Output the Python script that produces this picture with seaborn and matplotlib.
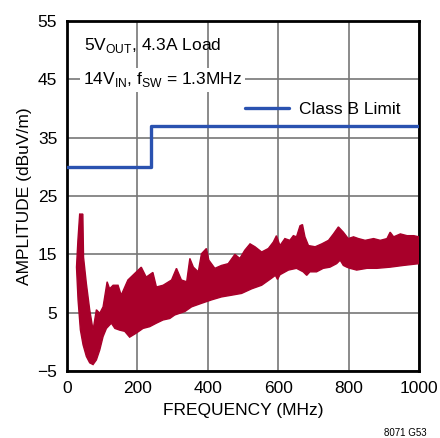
import numpy as np
import pandas as pd
import matplotlib
matplotlib.use('Agg')
import matplotlib.pyplot as plt
import seaborn as sns

# Dados
limit_freq = [0, 240, 1000]
limit_amp = [30, 37, 37]

upper_freq = [27, 31, 36, 45, 47, 55, 64.5, 74, 83.5, 93, 102.5, 114, 121, 131, 145, 154,
              173, 192, 211, 225, 244, 254, 273, 297, 311, 325, 340, 349, 359, 373, 382,
              396, 403, 420, 439, 458, 477, 491, 505, 520, 534, 553, 572, 586, 595, 605,
              619, 633, 643, 652, 662, 669, 676, 686, 705, 724, 743, 757, 771, 785, 799,
              814, 828, 847, 871, 890, 909, 918, 928, 947, 966, 985, 1000]
upper_amp = [12.8, 17.4, 21.9, 21.9, 14.5, 10, 5.5, 2, 5.5, 4.9, 6, 10.3, 9.1, 9.7, 9.7, 8,
             10.6, 11.7, 12.8, 11.1, 11.9, 9.4, 9.7, 10.6, 12.6, 10.6, 10.3, 14.3, 12.8, 12,
             15.1, 16, 14, 12.6, 13.1, 13.4, 15, 14.3, 15.7, 16.8, 16.3, 15.4, 16, 17.1,
             18.2, 16.5, 17.7, 17.4, 18.2, 18, 19.9, 20.1, 18, 16.5, 16.3, 16.8, 17.4, 18.5,
             19.7, 18.8, 17.7, 18, 17.7, 17.4, 17.7, 17.4, 17.7, 18.8, 18, 18.5, 18.2, 18.2, 18]

lower_freq = [27, 31.4, 38, 45.6, 55, 64.5, 74, 83.5, 93, 102.5, 112, 126, 136, 150, 164,
              178, 197, 216, 235, 254, 273, 292, 306, 335, 354, 382, 411, 439, 468, 496,
              525, 553, 581, 592, 598, 605, 629, 652, 671, 681, 690, 709, 728, 747, 766,
              776, 785, 795, 804, 823, 852, 880, 918, 956, 1000]
lower_amp = [12.8, 7.2, 2.05, -0.5, -2.5, -3.6, -3.9, -3.1, -1.4, 0.9, 2.3, 3.2, 2.3, 2, 1.8,
             0.8, 1.5, 2.3, 2.6, 3.2, 3.75, 4, 4.6, 5.2, 6, 6.6, 7.2, 7.7, 8, 8.3,
             9.1, 9.7, 10.9, 11.4, 10.7, 11.5, 12.3, 12.6, 12, 11.4, 12, 12, 12.6, 12.8, 13.4,
             14, 13.1, 12.8, 12.6, 12.3, 12.6, 12.6, 12.8, 13.1, 13.4]

y_ticks = [-5, 5, 15, 25, 35, 45, 55]
x_ticks = [0, 200, 400, 600, 800, 1000]

sns.set_style("white")
plt.rcParams['font.family'] = ['Liberation Sans', 'DejaVu Sans']
plt.rcParams['mathtext.fontset'] = 'custom'
plt.rcParams['mathtext.rm'] = 'Liberation Sans'
plt.rcParams['text.color'] = 'black'
plt.rcParams['axes.labelcolor'] = 'black'
plt.rcParams['xtick.color'] = 'black'
plt.rcParams['ytick.color'] = 'black'

fig = plt.figure(figsize=(4.4, 4.38), dpi=100)
ax = fig.add_axes([67 / 440, 1 - 371 / 438, 352 / 440, 350 / 438])

# Envelope do ruído (vermelho)
poly_x = np.concatenate([upper_freq, lower_freq[::-1]])
poly_y = np.concatenate([upper_amp, lower_amp[::-1]])
ax.fill(poly_x, poly_y, color='#A8002A', lw=1.0, ec='#A8002A', zorder=3)

# Limite Classe B
df_lim = pd.DataFrame({'freq': limit_freq, 'amp': limit_amp})
sns.lineplot(data=df_lim, x='freq', y='amp', drawstyle='steps-post', color='#2A52B0',
             lw=2.4, ax=ax, label='Class B Limit', zorder=4)

ax.set_xlim(0, 1000)
ax.set_ylim(-5, 55)
ax.set_xticks(x_ticks)
ax.set_yticks(y_ticks)
ax.set_yticklabels(['\u22125' if t < 0 else str(t) for t in y_ticks])
ax.tick_params(labelsize=12.5, length=0, pad=7)
ax.grid(True, color='#777777', lw=1.2, zorder=1)
ax.set_axisbelow(True)
for s in ax.spines.values():
    s.set_color('black')
    s.set_linewidth(2)

ax.set_xlabel('FREQUENCY (MHz)', fontsize=12.5, labelpad=5)
ax.set_ylabel('AMPLITUDE (dBuV/m)', fontsize=12.5, labelpad=4)

ax.text(0.048, 0.93, r'5V$_{\rm OUT}$, 4.3A Load', transform=ax.transAxes,
        fontsize=12.5, va='center', ha='left', zorder=5)
ax.text(0.045, 0.832, r'14V$_{\rm IN}$, f$_{\rm SW}$ = 1.3MHz', transform=ax.transAxes,
        fontsize=12.5, va='center', ha='left', zorder=5,
        bbox=dict(facecolor='white', edgecolor='none', pad=2))

leg = ax.legend(loc='center left', bbox_to_anchor=(0.506, 0.746), frameon=False,
                fontsize=12.5, handlelength=2.5, borderpad=0, borderaxespad=0,
                handletextpad=0.6)

fig.text(405 / 440, 1 - 433 / 438, '8071 G53', fontsize=7, ha='center', va='center')

plt.savefig('out.png', dpi=100)
